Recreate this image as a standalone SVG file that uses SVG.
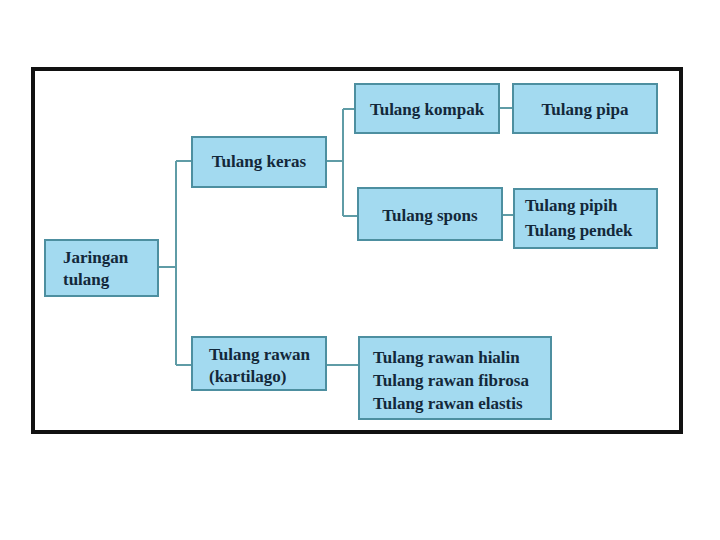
<svg xmlns="http://www.w3.org/2000/svg" width="720" height="540" viewBox="0 0 720 540">
<style>
.box{fill:#a3daf0;stroke:#4d8fa0;stroke-width:2}
.t{font-family:"Liberation Serif","DejaVu Serif",serif;font-weight:bold;font-size:17px;fill:#13283a}
.c{fill:none;stroke:#5f9ca6;stroke-width:2}
</style>
<rect x="0" y="0" width="720" height="540" fill="#ffffff"/>
<rect x="33" y="69" width="648" height="363" fill="#ffffff" stroke="#111111" stroke-width="4"/>
<g id="connectors">
<path class="c" d="M158 267 H176 M176 161 V365 M176 161 H192 M176 365 H192"/>
<path class="c" d="M326 161 H343 M343 109 V216 M343 109 H355 M343 216 H358"/>
<path class="c" d="M499 108 H513"/>
<path class="c" d="M502 215 H514"/>
<path class="c" d="M326 365 H359"/>
</g>
<g id="jaringan">
<rect class="box" x="45" y="240" width="113" height="56"/>
<text class="t" x="63" y="263">Jaringan</text>
<text class="t" x="63" y="285">tulang</text>
</g>
<g id="keras">
<rect class="box" x="192" y="137" width="134" height="50"/>
<text class="t" x="259" y="167" text-anchor="middle">Tulang keras</text>
</g>
<g id="rawan">
<rect class="box" x="192" y="337" width="134" height="53"/>
<text class="t" x="209" y="360">Tulang rawan</text>
<text class="t" x="209" y="382">(kartilago)</text>
</g>
<g id="kompak">
<rect class="box" x="355" y="84" width="144" height="49"/>
<text class="t" x="427" y="115" text-anchor="middle">Tulang kompak</text>
</g>
<g id="pipa">
<rect class="box" x="513" y="84" width="144" height="49"/>
<text class="t" x="585" y="115" text-anchor="middle">Tulang pipa</text>
</g>
<g id="spons">
<rect class="box" x="358" y="188" width="144" height="52"/>
<text class="t" x="430" y="221" text-anchor="middle">Tulang spons</text>
</g>
<g id="pipih">
<rect class="box" x="514" y="189" width="143" height="59"/>
<text class="t" x="525" y="211">Tulang pipih</text>
<text class="t" x="525" y="236">Tulang pendek</text>
</g>
<g id="rawan-list">
<rect class="box" x="359" y="337" width="192" height="82"/>
<text class="t" x="373" y="363">Tulang rawan hialin</text>
<text class="t" x="373" y="386">Tulang rawan fibrosa</text>
<text class="t" x="373" y="409">Tulang rawan elastis</text>
</g>
</svg>
